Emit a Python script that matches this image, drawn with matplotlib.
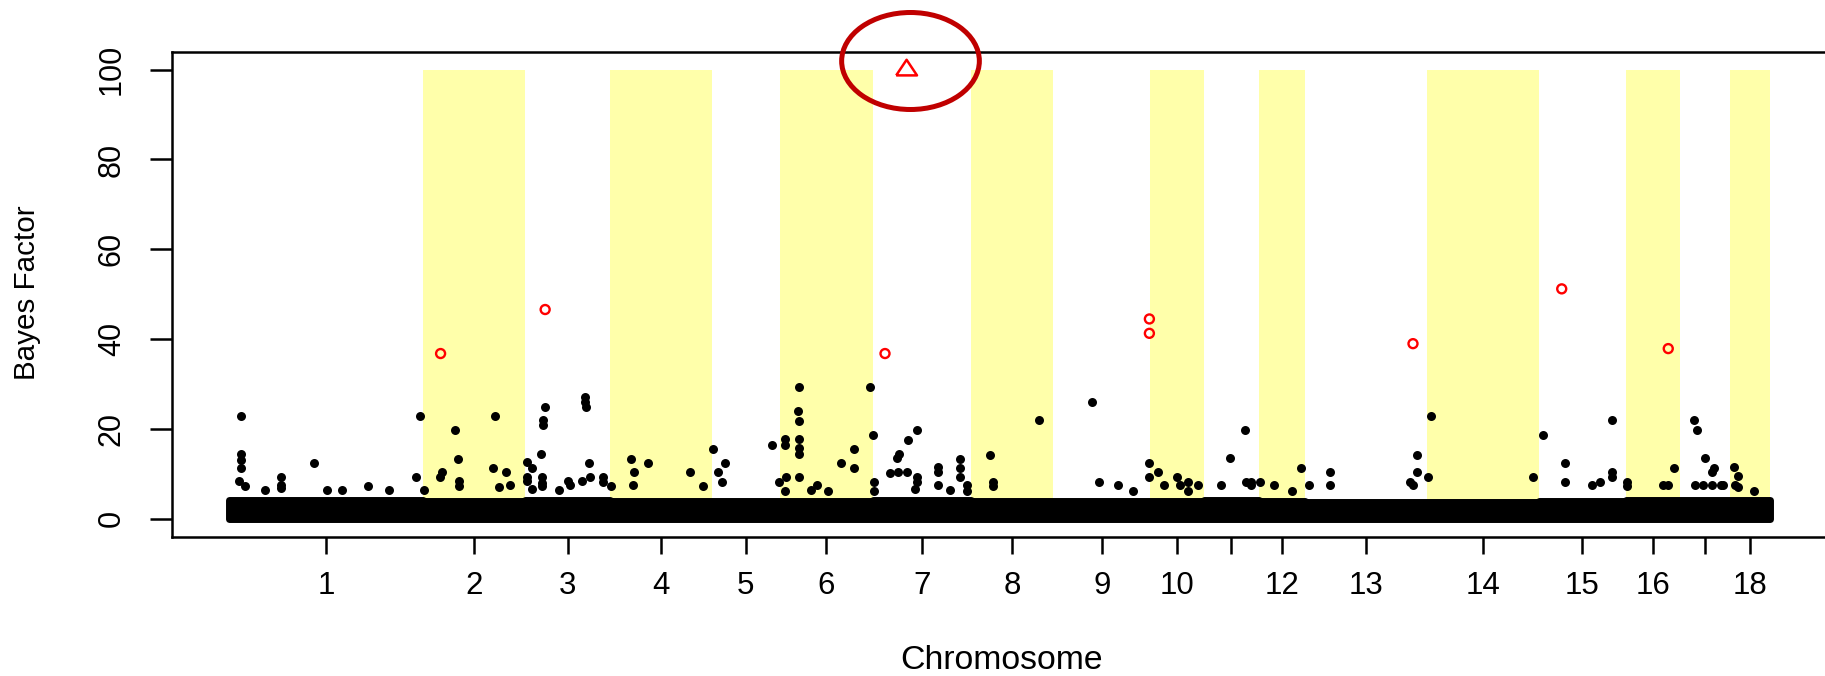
import matplotlib
matplotlib.use("Agg")
import matplotlib.pyplot as plt
from matplotlib.patches import Ellipse
import numpy as np

plt.rcParams['font.family'] = ['Liberation Sans', 'DejaVu Sans']

# Chromosome lengths (Mb)
chrom_names = [str(i) for i in range(1, 19)]
chrom_len = [276, 146, 121, 145, 97, 133, 140, 117, 139, 76, 79, 66, 174, 159, 124, 77, 72, 57]

# top of the dense cloud of small Bayes factors, per chromosome
band_top = [4.3, 4.0, 4.1, 4.0, 4.0, 4.0, 4.1, 4.0, 3.9, 4.0, 4.1, 4.0, 3.8, 3.8, 4.0, 4.1, 4.1, 4.2]

# visible markers above the cloud: chromosome, position within chromosome (Mb), Bayes factor
snp_chr = [1, 1, 1, 1, 1, 1, 1, 1, 1, 1, 1, 1, 1, 1, 1, 1, 1,
           2, 2, 2, 2, 2, 2, 2, 2, 2, 2, 2, 2,
           3, 3, 3, 3, 3, 3, 3, 3, 3, 3, 3, 3, 3, 3, 3, 3, 3, 3, 3, 3, 3, 3, 3,
           4, 4, 4, 4, 4, 4, 4,
           5, 5, 5, 5, 5, 5,
           6, 6, 6, 6, 6, 6, 6, 6, 6, 6, 6, 6, 6, 6, 6, 6, 6, 6, 6,
           7, 7, 7, 7, 7, 7, 7, 7, 7, 7, 7, 7, 7, 7, 7, 7, 7, 7, 7, 7, 7,
           8, 8, 8, 8,
           9, 9, 9, 9, 9, 9,
           10, 10, 10, 10, 10, 10, 10,
           11, 11, 11, 11, 11, 11,
           12, 12, 12, 12,
           13, 13, 13, 13, 13, 13, 13,
           14, 14, 14,
           15, 15, 15, 15, 15, 15, 15, 15,
           16, 16, 16, 16, 16,
           17, 17, 17, 17, 17, 17, 17, 17, 17, 17,
           18, 18, 18, 18, 18]
snp_pos = [16.3, 16.3, 16.3, 16.3, 13.4, 22, 50.5, 73.3, 73.3, 73.3, 120, 139.4, 160, 198, 228, 271.6, 265.5,
           1.4, 24.2, 26.6, 45.6, 50.3, 51.7, 51.7, 103.1, 100.2, 117.9, 108.8, 124,
           1.9, 9, 1.9, 1.9, 22.3, 24.7, 25.6, 28, 23.3, 23.3, 23.3, 85, 85, 86.5, 91.2, 92.2, 80.4, 61.2, 63.7, 110.3, 111.2, 48.4, 9,
           0.7, 29.3, 34, 32.1, 53.5, 113.9, 132.8,
           1.3, 9.2, 18.8, 15, 86.3, 95.8,
           7.4, 7.4, 8.8, 7.4, 27.4, 26.4, 27.4, 27.4, 27.4, 27.4, 27.4, 52.7, 69.2, 86.9, 105.4, 105.4, 129.1, 132.5, 45,
           1.4, 1.4, 24.2, 34.6, 37.5, 49.5, 63.2, 36.1, 48.1, 63.2, 63.2, 93.1, 93.1, 93.1, 124.1, 124.1, 124.1, 134.5, 134.5, 60, 110,
           27.3, 31.6, 31.6, 96.8,
           55, 65.9, 93, 114.4, 136.8, 136.8,
           10.2, 37.7, 53, 42, 54, 68.1, 19.6,
           24, 58.6, 37.2, 68.1, 68.1, 60,
           1, 21.5, 59.6, 47.2,
           5, 35, 35, 159.5, 159.5, 149.1, 153.8,
           5, 0.4, 150.9,
           6.3, 37.3, 37.3, 104.7, 104.7, 104.7, 87.2, 75.4,
           2.2, 2.2, 68.4, 53.5, 60.6,
           20.7, 25.5, 35.9, 48.8, 46.4, 21.7, 33.6, 46.6, 59.6, 61.7,
           5.1, 10.8, 6.5, 34.1, 12]
snp_bf = [22.9, 14.5, 13.0, 11.3, 8.5, 7.4, 6.4, 9.4, 7.6, 6.9, 12.4, 6.4, 6.4, 7.3, 6.4, 22.9, 9.3,
          6.4, 9.3, 10.4, 19.7, 13.4, 8.5, 7.4, 22.9, 11.3, 10.4, 7.1, 7.5,
          12.6, 11.3, 9.3, 8.5, 14.5, 20.8, 21.9, 24.9, 9.3, 8.0, 7.2, 27.2, 26.0, 24.9, 12.4, 9.3, 8.5, 8.5, 7.5, 9.3, 8.2, 6.4, 6.6,
          7.2, 13.4, 10.4, 7.5, 12.4, 10.4, 7.2,
          15.6, 10.4, 12.5, 8.3, 16.5, 8.3,
          17.7, 16.5, 9.4, 6.3, 29.3, 23.9, 21.7, 17.7, 15.7, 14.5, 9.4, 7.6, 6.3, 12.4, 15.6, 11.4, 29.3, 18.6, 6.5,
          8.3, 6.3, 10.2, 13.5, 14.5, 17.6, 19.7, 10.4, 10.4, 9.3, 8.3, 11.5, 10.4, 7.6, 13.4, 11.4, 9.4, 7.6, 6.3, 6.6, 6.5,
          14.3, 8.3, 7.4, 21.9,
          26.1, 8.3, 7.6, 6.3, 12.4, 9.4,
          10.4, 9.4, 8.3, 7.6, 6.3, 7.6, 7.6,
          7.6, 19.7, 13.5, 8.3, 7.6, 8.3,
          8.3, 7.6, 11.4, 6.3,
          7.6, 10.4, 7.6, 14.3, 10.4, 8.3, 7.6,
          22.9, 9.3, 9.3,
          18.6, 12.4, 8.3, 21.9, 10.4, 9.3, 8.3, 7.6,
          8.3, 7.4, 11.4, 7.6, 7.6,
          21.9, 19.7, 13.5, 11.4, 10.4, 7.6, 7.6, 7.6, 7.6, 7.6,
          11.5, 9.6, 7.6, 6.3, 7.0]

# highlighted SNPs (red open circles) and the capped one (triangle, BF >= 100)
top_chr = [2, 3, 7, 9, 9, 13, 15, 16]
top_pos = [25.2, 28.4, 17.3, 137.5, 137.5, 153.6, 32.8, 60.8]
top_bf = [36.8, 46.6, 36.8, 44.5, 41.3, 39.0, 51.2, 37.9]
capped_chr = [7]
capped_pos = [48.1]
capped_bf = [100]

# cumulative genome coordinates
chrom_start = np.concatenate([[0], np.cumsum(chrom_len)[:-1]])
chrom_end = np.cumsum(chrom_len)
chrom_mid = (chrom_start + chrom_end) / 2


def genome_x(chrs, pos):
    return np.array([chrom_start[c - 1] + p for c, p in zip(chrs, pos)])


fig = plt.figure(figsize=(18.25, 6.76), dpi=100)
ax = fig.add_axes([172 / 1825, 1 - 536.8 / 676, (1831 - 172) / 1825, (536.8 - 51.7) / 676])

# yellow bands for even chromosomes
for i in range(1, len(chrom_len), 2):
    ax.fill_between([chrom_start[i], chrom_end[i]], 0, 100, color="#FFFFAA", lw=0, zorder=1)

# dense cloud of SNPs with small Bayes factor
xs = np.ravel(np.column_stack([chrom_start, chrom_end]))
ys = np.repeat(band_top, 2)
ax.fill_between(xs, 0, ys, color="black", edgecolor="black", lw=5, joinstyle="round", zorder=2)

# individual SNPs above the cloud
ax.scatter(genome_x(snp_chr, snp_pos), snp_bf, s=42, color="black", lw=0, zorder=3)

# highlighted SNPs
ax.scatter(genome_x(top_chr, top_pos), top_bf, s=42, facecolors="none", edgecolors="red", lw=1.7, zorder=4)
tri = [(-1, -0.55), (1, -0.55), (0, 0.95), (-1, -0.55)]
ax.scatter(genome_x(capped_chr, capped_pos), capped_bf, marker=tri, s=15 ** 2,
           facecolors="none", edgecolors="red", lw=1.8, zorder=4)

ax.set_xlim(-82, 2285)
ax.set_ylim(-4, 104)

# axes and ticks (R style)
for sp in ax.spines.values():
    sp.set_linewidth(1.8)
ax.set_yticks([0, 20, 40, 60, 80, 100])
ax.set_xticks(chrom_mid)
ax.set_xticklabels(["" if n in ("11", "17") else n for n in chrom_names])
ax.tick_params(axis="x", length=12.5, width=1.8, pad=12, labelsize=22.5)
ax.tick_params(axis="y", length=15.5, width=1.8, pad=17, labelsize=22, labelrotation=90)
for lab in ax.get_yticklabels():
    lab.set_va("center")

fig.text(1001 / 1825, 1 - 669.3 / 676, "Chromosome", ha="center", va="baseline", fontsize=24.3)
fig.text(27 / 1825, 1 - 293 / 676, "Bayes Factor", ha="center", va="center", rotation=90, fontsize=21.3)

# dark red ellipse highlighting the capped SNP
ell = Ellipse((910.5 / 1825, 1 - 61 / 676), 137.7 / 1825, 97 / 676, transform=fig.transFigure,
              fill=False, edgecolor="#C00000", lw=3.6, clip_on=False)
fig.add_artist(ell)

plt.savefig("out.png", dpi=100)
plt.close()
